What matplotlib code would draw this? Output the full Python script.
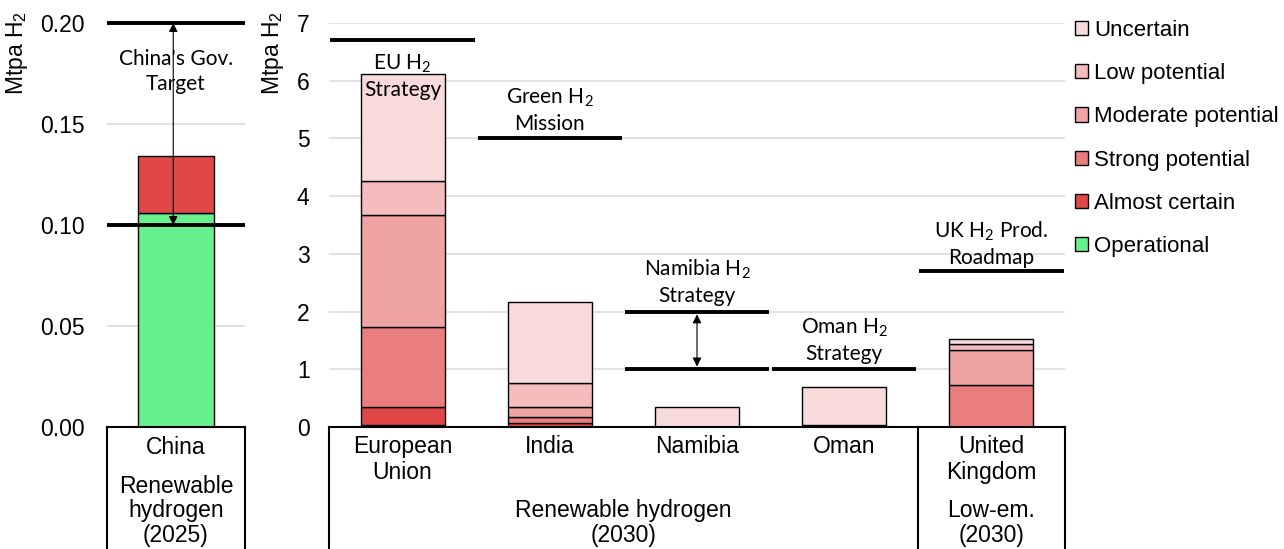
import numpy as np
import matplotlib.pyplot as plt
from matplotlib.patches import Patch

plt.rcParams['font.family'] = ['Liberation Sans', 'DejaVu Sans']
plt.rcParams['mathtext.default'] = 'regular'

# --- data ---
stages = ['Operational', 'Almost certain', 'Strong potential',
          'Moderate potential', 'Low potential', 'Uncertain']
colors = ['#66F08E', '#E04848', '#EA7E7E', '#F0A3A3', '#F4BCBC', '#F8DADA']

china_vals = [0.106, 0.028, 0, 0, 0, 0]
china_targets = [0.10, 0.20]

countries = ['European\nUnion', 'India', 'Namibia', 'Oman', 'United\nKingdom']
operational = [0.035, 0, 0, 0, 0]
almost_certain = [0.32, 0.076, 0, 0.03, 0]
strong = [1.375, 0.094, 0, 0, 0.735]
moderate = [1.94, 0.17, 0, 0, 0.6]
low = [0.59, 0.43, 0, 0, 0.1]
uncertain = [1.86, 1.39, 0.345, 0.655, 0.095]
targets = [6.7, 5.0, 2.0, 1.0, 2.7]
namibia_low_target = 1.0
target_labels = ['EU H$_2$\nStrategy', 'Green H$_2$\nMission', 'Namibia H$_2$\nStrategy',
                 'Oman H$_2$\nStrategy', 'UK H$_2$ Prod.\nRoadmap']
target_label_y = [6.08, 5.48, 2.51, 1.5, 3.17]

W, H = 1284, 549
fig = plt.figure(figsize=(W / 100, H / 100), dpi=100)

def fx(px):
    return px / W

def fy(px):
    return 1 - px / H

note_font = dict(family=['Lato', 'DejaVu Sans'], fontsize=15, ha='center', va='center',
                 linespacing=1.3)
fs = 16.5

# ---------- left panel (China) ----------
axl = fig.add_axes([fx(107), fy(427), fx(245 - 107), fy(23) - fy(427)])
bottom = 0
for v, c in zip(china_vals, colors):
    if v > 0:
        axl.bar(0, v, width=0.55, bottom=bottom, color=c, edgecolor='black', lw=1, zorder=3)
        bottom += v
axl.set_xlim(-0.5, 0.5)
axl.set_ylim(0, 0.2)
axl.set_yticks([0, 0.05, 0.10, 0.15, 0.20])
axl.set_yticklabels(['0.00', '0.05', '0.10', '0.15', '0.20'], fontsize=fs)
axl.set_xticks([])
axl.grid(axis='y', color='#DDDDDD', lw=1.2, zorder=0)
for s in axl.spines.values():
    s.set_visible(False)
axl.tick_params(axis='y', length=0, pad=16)
for t in china_targets:
    axl.hlines(t, -0.5, 0.5, color='black', lw=2.8, zorder=5, clip_on=False)
axl.annotate('', xy=(-0.02, china_targets[1]), xytext=(-0.02, china_targets[0]),
             arrowprops=dict(arrowstyle='<|-|>', color='black', lw=0.8,
                             mutation_scale=13, shrinkA=0, shrinkB=0), zorder=6)
axl.text(0, 0.176, "China's Gov.\nTarget", **note_font, zorder=7)
axl.set_ylabel('Mtpa H$_2$', fontsize=fs)
axl.yaxis.set_label_coords(-0.56, 0.925)

# lower box for China
bxl = fig.add_axes([fx(107), 0, fx(245 - 107), fy(427)])
bxl.set_xlim(0, 1)
bxl.set_ylim(0, 1)
bxl.set_xticks([])
bxl.set_yticks([])
bxl.spines['bottom'].set_visible(False)
for s in ['top', 'left', 'right']:
    bxl.spines[s].set_linewidth(1.5)
bxl.text(0.5, fy(447) / fy(427), 'China', fontsize=fs, ha='center', va='center')
bxl.text(0.5, fy(511) / fy(427), 'Renewable\nhydrogen\n(2025)', fontsize=fs,
         ha='center', va='center', linespacing=1.1)

# ---------- right panel ----------
axr = fig.add_axes([fx(329), fy(427), fx(1065 - 329), fy(23) - fy(427)])
x = np.arange(len(countries))
layers = [operational, almost_certain, strong, moderate, low, uncertain]
bottoms = np.zeros(len(countries))
for vals, c in zip(layers, colors):
    for i, v in enumerate(vals):
        if v > 0:
            axr.bar(x[i], v, width=0.57, bottom=bottoms[i], color=c,
                    edgecolor='black', lw=1, zorder=3)
    bottoms += np.array(vals)
axr.set_xlim(-0.5, len(countries) - 0.5)
axr.set_ylim(0, 7)
axr.set_yticks(range(8))
axr.tick_params(axis='y', length=0, pad=14, labelsize=fs)
axr.set_xticks([])
axr.grid(axis='y', color='#DDDDDD', lw=1.2, zorder=0)
for s in axr.spines.values():
    s.set_visible(False)
for i, t in enumerate(targets):
    axr.hlines(t, i - 0.49, i + 0.49, color='black', lw=2.8, zorder=5, clip_on=False)
    axr.text(i, target_label_y[i], target_labels[i], **note_font, zorder=7)
axr.hlines(namibia_low_target, 2 - 0.49, 2 + 0.49, color='black', lw=2.8, zorder=5)
axr.annotate('', xy=(2, targets[2]), xytext=(2, namibia_low_target),
             arrowprops=dict(arrowstyle='<|-|>', color='black', lw=0.8,
                             mutation_scale=13, shrinkA=2, shrinkB=2), zorder=6)
axr.set_ylabel('Mtpa H$_2$', fontsize=fs)
axr.yaxis.set_label_coords(-0.058, 0.925)

# lower box for right panel
bxr = fig.add_axes([fx(329), 0, fx(1065 - 329), fy(427)])
bxr.set_xlim(-0.5, len(countries) - 0.5)
bxr.set_ylim(0, 1)
bxr.set_xticks([])
bxr.set_yticks([])
bxr.spines['bottom'].set_visible(False)
for s in ['top', 'left', 'right']:
    bxr.spines[s].set_linewidth(1.5)
bxr.axvline(3.5, color='black', lw=1.5)
for i, name in enumerate(countries):
    bxr.text(i, fy(435) / fy(427), name, fontsize=fs, ha='center', va='top',
             linespacing=1.15)
bxr.text(1.5, fy(523) / fy(427), 'Renewable hydrogen\n(2030)', fontsize=fs,
         ha='center', va='center', linespacing=1.1)
bxr.text(4, fy(523) / fy(427), 'Low-em.\n(2030)', fontsize=fs,
         ha='center', va='center', linespacing=1.1)

# legend
handles = [Patch(facecolor=c, edgecolor='black', lw=1, label=s)
           for s, c in zip(stages, colors)][::-1]
fig.legend(handles=handles, loc='upper left', bbox_to_anchor=(fx(1066), fy(11)),
           frameon=False, fontsize=16, handlelength=0.6, handleheight=0.6,
           handletextpad=0.25, labelspacing=1.0, borderaxespad=0)

fig.savefig('out.png', dpi=100)
